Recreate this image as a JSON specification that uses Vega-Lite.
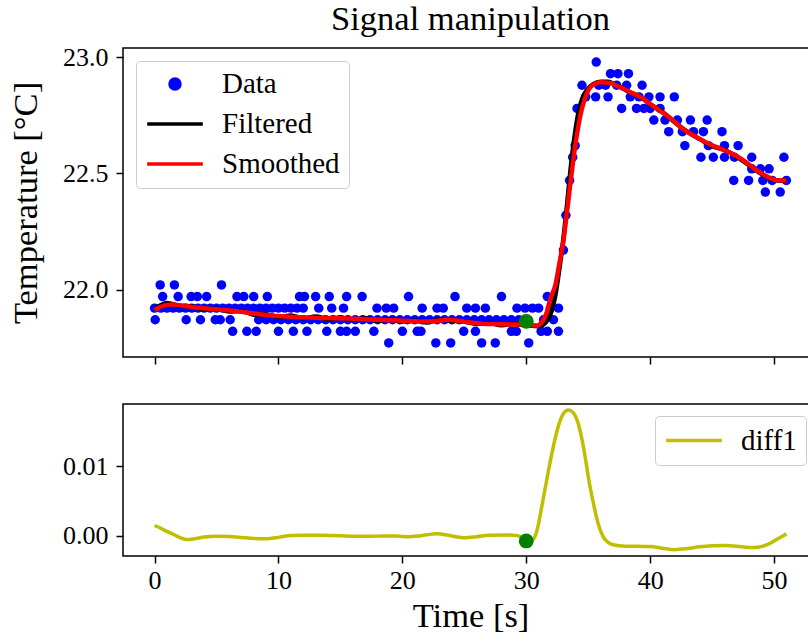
{
  "$schema": "https://vega.github.io/schema/vega-lite/v6.json",
  "padding": {"left": 7, "top": 1, "right": 0, "bottom": 2},
  "config": {
    "font": "Liberation Serif",
    "view": {"stroke": "black", "strokeWidth": 1.5},
    "axis": {"grid": false, "domain": false, "tickColor": "black", "tickWidth": 1.5, "tickSize": 7,
      "labelFont": "Liberation Serif", "labelFontSize": 26, "labelColor": "black",
      "titleFont": "Liberation Serif", "titleFontSize": 34.5, "titleFontWeight": "normal", "titleColor": "black"},
    "legend": {"labelFont": "Liberation Serif", "labelFontSize": 29, "labelColor": "black"}
  },
  "datasets": {
    "data": [
      {"time":0.0,"temp":21.92},{"time":0.5,"temp":21.92},{"time":1.0,"temp":21.92},{"time":1.5,"temp":21.92},{"time":2.0,"temp":21.92},{"time":2.5,"temp":21.92},{"time":3.0,"temp":21.92},{"time":3.5,"temp":21.92},{"time":4.0,"temp":21.92},{"time":4.5,"temp":21.92},{"time":5.0,"temp":21.92},{"time":5.5,"temp":21.92},{"time":6.0,"temp":21.92},{"time":6.5,"temp":21.92},{"time":7.0,"temp":21.92},{"time":7.5,"temp":21.92},{"time":8.0,"temp":21.92},{"time":8.5,"temp":21.92},{"time":9.0,"temp":21.92},{"time":9.5,"temp":21.92},{"time":10.0,"temp":21.92},{"time":10.5,"temp":21.92},{"time":11.0,"temp":21.92},{"time":11.5,"temp":21.92},
      {"time":12.0,"temp":21.92},{"time":13.25,"temp":21.92},{"time":14.3,"temp":21.92},{"time":15.25,"temp":21.92},{"time":17.95,"temp":21.92},{"time":18.7,"temp":21.92},{"time":19.3,"temp":21.92},{"time":21.6,"temp":21.92},{"time":22.8,"temp":21.92},{"time":23.3,"temp":21.92},{"time":25.2,"temp":21.92},{"time":25.9,"temp":21.92},{"time":26.7,"temp":21.92},{"time":29.25,"temp":21.92},{"time":29.9,"temp":21.92},{"time":30.5,"temp":21.92},{"time":31.0,"temp":21.92},{"time":31.95,"temp":21.92},{"time":32.6,"temp":21.92},
      {"time":0.05,"temp":21.87},{"time":2.55,"temp":21.87},{"time":3.7,"temp":21.87},{"time":4.9,"temp":21.87},{"time":5.3,"temp":21.87},{"time":6.1,"temp":21.87},
      {"time":8.4,"temp":21.87},{"time":9.0,"temp":21.87},{"time":9.6,"temp":21.87},{"time":10.2,"temp":21.87},{"time":10.8,"temp":21.87},{"time":11.4,"temp":21.87},{"time":12.0,"temp":21.87},{"time":12.6,"temp":21.87},{"time":13.2,"temp":21.87},{"time":13.8,"temp":21.87},{"time":14.4,"temp":21.87},{"time":15.0,"temp":21.87},{"time":15.6,"temp":21.87},{"time":16.2,"temp":21.87},{"time":16.8,"temp":21.87},{"time":17.4,"temp":21.87},{"time":18.0,"temp":21.87},{"time":18.6,"temp":21.87},{"time":19.2,"temp":21.87},{"time":19.8,"temp":21.87},{"time":20.4,"temp":21.87},{"time":21.0,"temp":21.87},{"time":21.6,"temp":21.87},{"time":22.2,"temp":21.87},{"time":22.8,"temp":21.87},{"time":23.4,"temp":21.87},{"time":24.0,"temp":21.87},{"time":24.6,"temp":21.87},{"time":25.2,"temp":21.87},{"time":25.8,"temp":21.87},{"time":26.4,"temp":21.87},{"time":27.0,"temp":21.87},{"time":27.6,"temp":21.87},{"time":28.2,"temp":21.87},{"time":28.8,"temp":21.87},{"time":29.4,"temp":21.87},{"time":31.4,"temp":21.87},{"time":32.2,"temp":21.87},
      {"time":0.65,"temp":21.97},{"time":1.9,"temp":21.97},{"time":2.95,"temp":21.97},{"time":3.45,"temp":21.97},{"time":4.2,"temp":21.97},{"time":6.65,"temp":21.97},{"time":7.2,"temp":21.97},{"time":8.0,"temp":21.97},{"time":9.1,"temp":21.97},{"time":11.7,"temp":21.97},{"time":12.1,"temp":21.97},{"time":13.0,"temp":21.97},{"time":14.1,"temp":21.97},{"time":15.5,"temp":21.97},{"time":16.75,"temp":21.97},{"time":20.5,"temp":21.97},{"time":24.25,"temp":21.97},{"time":28.0,"temp":21.97},{"time":31.7,"temp":21.97},
      {"time":0.45,"temp":22.02},{"time":1.6,"temp":22.02},{"time":5.4,"temp":22.02},
      {"time":6.3,"temp":21.82},{"time":7.45,"temp":21.82},{"time":8.2,"temp":21.82},{"time":10.0,"temp":21.82},{"time":11.2,"temp":21.82},{"time":12.3,"temp":21.82},{"time":13.9,"temp":21.82},{"time":15.0,"temp":21.82},{"time":15.5,"temp":21.82},{"time":16.2,"temp":21.82},{"time":17.7,"temp":21.82},{"time":20.0,"temp":21.82},{"time":21.2,"temp":21.82},{"time":21.5,"temp":21.82},{"time":24.95,"temp":21.82},{"time":25.9,"temp":21.82},{"time":28.8,"temp":21.82},{"time":29.2,"temp":21.82},{"time":31.2,"temp":21.82},{"time":31.7,"temp":21.82},{"time":32.6,"temp":21.82},
      {"time":18.9,"temp":21.77},{"time":22.7,"temp":21.77},{"time":23.9,"temp":21.77},{"time":26.4,"temp":21.77},{"time":27.5,"temp":21.77},{"time":30.2,"temp":21.77},
      {"time":33.0,"temp":22.17},{"time":33.2,"temp":22.32},{"time":33.5,"temp":22.47},{"time":33.75,"temp":22.57},{"time":33.95,"temp":22.62},{"time":34.1,"temp":22.78},
      {"time":35.65,"temp":22.98},
      {"time":36.8,"temp":22.93},{"time":37.4,"temp":22.93},{"time":38.25,"temp":22.93},
      {"time":34.5,"temp":22.88},{"time":35.85,"temp":22.88},{"time":36.4,"temp":22.88},{"time":37.3,"temp":22.88},{"time":38.1,"temp":22.88},{"time":39.35,"temp":22.88},
      {"time":34.8,"temp":22.83},{"time":35.6,"temp":22.83},{"time":36.6,"temp":22.83},{"time":38.4,"temp":22.83},{"time":39.1,"temp":22.83},{"time":39.9,"temp":22.83},{"time":40.8,"temp":22.83},{"time":41.95,"temp":22.83},
      {"time":37.7,"temp":22.78},{"time":38.9,"temp":22.78},{"time":39.5,"temp":22.78},{"time":40.0,"temp":22.78},{"time":40.8,"temp":22.78},
      {"time":40.3,"temp":22.73},{"time":41.2,"temp":22.73},{"time":42.2,"temp":22.73},{"time":43.25,"temp":22.73},{"time":44.6,"temp":22.73},
      {"time":41.5,"temp":22.68},{"time":42.6,"temp":22.68},{"time":43.5,"temp":22.68},{"time":44.3,"temp":22.68},{"time":45.8,"temp":22.68},
      {"time":42.8,"temp":22.62},{"time":44.7,"temp":22.62},{"time":46.0,"temp":22.62},{"time":47.1,"temp":22.62},
      {"time":44.1,"temp":22.57},{"time":45.1,"temp":22.57},{"time":46.0,"temp":22.57},{"time":46.8,"temp":22.57},{"time":48.2,"temp":22.57},{"time":50.8,"temp":22.57},
      {"time":48.2,"temp":22.52},{"time":48.9,"temp":22.52},{"time":49.6,"temp":22.52},
      {"time":46.75,"temp":22.47},{"time":47.95,"temp":22.47},{"time":49.1,"temp":22.47},{"time":49.85,"temp":22.47},{"time":51.0,"temp":22.47},
      {"time":49.3,"temp":22.42},{"time":50.5,"temp":22.42}
    ],
    "filtered": [
      {"time":0,"temp":21.915},{"time":1,"temp":21.942},{"time":2,"temp":21.930},{"time":3,"temp":21.928},{"time":4,"temp":21.914},{"time":5,"temp":21.918},{"time":6,"temp":21.906},{"time":7,"temp":21.908},{"time":8,"temp":21.892},{"time":9,"temp":21.894},{"time":10,"temp":21.882},{"time":11,"temp":21.888},{"time":12,"temp":21.876},{"time":13,"temp":21.884},{"time":14,"temp":21.873},{"time":15,"temp":21.880},{"time":16,"temp":21.870},{"time":17,"temp":21.876},{"time":18,"temp":21.866},{"time":19,"temp":21.872},{"time":20,"temp":21.862},{"time":21,"temp":21.866},{"time":22,"temp":21.858},{"time":23,"temp":21.872},{"time":24,"temp":21.866},{"time":25,"temp":21.862},{"time":26,"temp":21.852},{"time":27,"temp":21.856},{"time":28,"temp":21.846},{"time":29,"temp":21.852},{"time":30,"temp":21.846},{"time":31,"temp":21.842},{"time":31.6,"temp":21.86},{"time":32.0,"temp":21.90},{"time":32.4,"temp":21.99},{"time":32.7,"temp":22.10},{"time":33.0,"temp":22.22},{"time":33.3,"temp":22.37},{"time":33.6,"temp":22.53},{"time":33.9,"temp":22.66},{"time":34.2,"temp":22.76},{"time":34.5,"temp":22.82},{"time":34.9,"temp":22.86},{"time":35.4,"temp":22.885},{"time":36.0,"temp":22.895},{"time":36.6,"temp":22.895},{"time":37.2,"temp":22.882},{"time":37.8,"temp":22.866},{"time":38.5,"temp":22.846},{"time":39.2,"temp":22.83},{"time":40,"temp":22.798},{"time":41,"temp":22.765},{"time":42,"temp":22.72},{"time":43,"temp":22.68},{"time":44,"temp":22.648},{"time":45,"temp":22.618},{"time":46,"temp":22.602},{"time":47,"temp":22.572},{"time":48,"temp":22.535},{"time":49,"temp":22.498},{"time":50,"temp":22.472},{"time":51,"temp":22.468}
    ],
    "smoothed": [
      {"time":0,"temp":21.912},{"time":0.5,"temp":21.926},{"time":1.0,"temp":21.934},{"time":1.5,"temp":21.936},{"time":2.0,"temp":21.933},{"time":3.0,"temp":21.925},{"time":4.0,"temp":21.919},{"time":5.0,"temp":21.915},{"time":6.0,"temp":21.910},{"time":7.0,"temp":21.904},{"time":8.0,"temp":21.897},{"time":9.0,"temp":21.890},{"time":10.0,"temp":21.886},{"time":11.0,"temp":21.883},{"time":12.0,"temp":21.880},{"time":13.0,"temp":21.879},{"time":14.0,"temp":21.877},{"time":15.0,"temp":21.876},{"time":16.0,"temp":21.874},{"time":17.0,"temp":21.872},{"time":18.0,"temp":21.870},{"time":19.0,"temp":21.868},{"time":20.0,"temp":21.866},{"time":21.0,"temp":21.863},{"time":22.0,"temp":21.862},{"time":23.0,"temp":21.867},{"time":23.6,"temp":21.870},{"time":24.5,"temp":21.866},{"time":25.5,"temp":21.858},{"time":26.5,"temp":21.853},{"time":27.5,"temp":21.851},{"time":28.5,"temp":21.850},{"time":29.5,"temp":21.849},{"time":30.2,"temp":21.847},{"time":30.9,"temp":21.845},{"time":31.3,"temp":21.862},{"time":31.65,"temp":21.90},{"time":31.95,"temp":21.96},{"time":32.35,"temp":22.02},{"time":32.7,"temp":22.12},{"time":33.0,"temp":22.21},{"time":33.3,"temp":22.34},{"time":33.55,"temp":22.45},{"time":33.8,"temp":22.56},{"time":34.1,"temp":22.67},{"time":34.35,"temp":22.745},{"time":34.6,"temp":22.80},{"time":34.9,"temp":22.845},{"time":35.15,"temp":22.87},{"time":35.5,"temp":22.885},{"time":36.0,"temp":22.893},{"time":36.8,"temp":22.89},{"time":37.3,"temp":22.878},{"time":37.9,"temp":22.864},{"time":38.5,"temp":22.848},{"time":39.2,"temp":22.83},{"time":40.0,"temp":22.80},{"time":40.8,"temp":22.77},{"time":41.6,"temp":22.74},{"time":42.7,"temp":22.69},{"time":43.8,"temp":22.655},{"time":44.85,"temp":22.625},{"time":46.0,"temp":22.60},{"time":47.0,"temp":22.574},{"time":47.7,"temp":22.55},{"time":48.35,"temp":22.523},{"time":49.0,"temp":22.50},{"time":49.7,"temp":22.48},{"time":50.3,"temp":22.47},{"time":51.0,"temp":22.47}
    ],
    "diff": [
      {"time":0,"value":0.0015},{"time":0.5,"value":0.0011},{"time":1.0,"value":0.00065},{"time":1.5,"value":0.00025},{"time":2.0,"value":-0.0002},{"time":2.6,"value":-0.0005},{"time":3.2,"value":-0.0004},{"time":4.0,"value":-0.00015},{"time":5.0,"value":-0.00005},{"time":6.0,"value":-0.00008},{"time":7.0,"value":-0.0002},{"time":8.0,"value":-0.00035},{"time":9.0,"value":-0.0004},{"time":10.0,"value":-0.0002},{"time":11.0,"value":0.00008},{"time":12.0,"value":0.00012},{"time":13.5,"value":0.0001},{"time":15.0,"value":0.00002},{"time":16.5,"value":-0.00005},{"time":18.0,"value":-0.00002},{"time":19.5,"value":0.0},{"time":20.5,"value":-0.00012},{"time":21.5,"value":0.00005},{"time":22.8,"value":0.00033},{"time":24.0,"value":0.0},{"time":25.0,"value":-0.00025},{"time":26.0,"value":-0.0001},{"time":27.0,"value":0.0001},{"time":28.5,"value":0.00015},{"time":29.3,"value":0.00005},{"time":29.8,"value":-0.0004},{"time":30.2,"value":-0.0008},{"time":30.6,"value":-0.0004},{"time":31.0,"value":0.0018},{"time":31.2,"value":0.0037},{"time":31.6,"value":0.0075},{"time":32.0,"value":0.0112},{"time":32.3,"value":0.0137},{"time":32.7,"value":0.0163},{"time":33.0,"value":0.0175},{"time":33.4,"value":0.018},{"time":33.8,"value":0.0176},{"time":34.1,"value":0.0166},{"time":34.5,"value":0.0138},{"time":34.8,"value":0.0108},{"time":35.1,"value":0.0075},{"time":35.5,"value":0.004},{"time":35.8,"value":0.0018},{"time":36.2,"value":-0.0001},{"time":36.6,"value":-0.0009},{"time":37.0,"value":-0.00125},{"time":38.0,"value":-0.00145},{"time":39.0,"value":-0.00148},{"time":40.0,"value":-0.0015},{"time":41.0,"value":-0.00175},{"time":42.0,"value":-0.00195},{"time":43.0,"value":-0.0018},{"time":44.0,"value":-0.00155},{"time":45.0,"value":-0.0014},{"time":46.0,"value":-0.00135},{"time":47.0,"value":-0.00145},{"time":48.0,"value":-0.00165},{"time":48.7,"value":-0.0016},{"time":49.5,"value":-0.0012},{"time":50.2,"value":-0.0005},{"time":51.0,"value":0.0003}
    ],
    "eventTop": [{"time":30,"temp":21.863}],
    "eventBottom": [{"time":30,"value":-0.0007}]
  },
  "vconcat": [
    {
      "width": 695,
      "height": 309,
      "title": {"text": "Signal manipulation", "font": "Liberation Serif", "fontSize": 34.5, "fontWeight": "normal", "color": "black", "anchor": "middle", "frame": "group", "offset": 7},
      "layer": [
        {
          "data": {"name": "data"},
          "mark": {"type": "point", "filled": true, "size": 90, "opacity": 1},
          "encoding": {
            "x": {"field": "time", "type": "quantitative", "scale": {"domain": [-2.55, 53.55], "nice": false, "zero": false},
              "axis": {"values": [0,10,20,30,40,50], "labels": false, "title": null}},
            "y": {"field": "temp", "type": "quantitative", "scale": {"domain": [21.7095, 23.0405], "nice": false, "zero": false},
              "axis": {"values": [22.0, 22.5, 23.0], "format": ".1f", "title": "Temperature [°C]", "titlePadding": 19, "labelPadding": 8}},
            "color": {"datum": "Data", "type": "nominal",
              "scale": {"domain": ["Data", "Filtered", "Smoothed"], "range": ["#0000ff", "#000000", "#ff0000"]},
              "legend": {"orient": "top-left", "offset": 13, "title": null, "padding": 9, "strokeColor": "#cccccc", "fillColor": "rgba(255,255,255,0.8)", "cornerRadius": 4,
                "symbolType": "stroke", "symbolSize": 3100, "symbolStrokeWidth": 3.5, "labelOffset": 17, "rowPadding": 11, "clipHeight": 28,
                "encode": {"symbols": {"update": {
                  "shape": {"signal": "datum.value === 'Data' ? 'circle' : 'stroke'"},
                  "size": {"signal": "datum.value === 'Data' ? 100 : 3100"},
                  "fill": {"signal": "datum.value === 'Data' ? '#0000ff' : 'transparent'"},
                  "stroke": {"signal": "datum.value === 'Data' ? 'transparent' : (datum.value === 'Filtered' ? '#000000' : '#ff0000')"},
                  "strokeWidth": {"value": 3.5},
                  "opacity": {"value": 1}
                }}}}
            }
          }
        },
        {
          "data": {"name": "filtered"},
          "mark": {"type": "line", "strokeWidth": 4.5, "interpolate": "monotone"},
          "encoding": {
            "x": {"field": "time", "type": "quantitative"},
            "y": {"field": "temp", "type": "quantitative"},
            "color": {"datum": "Filtered", "type": "nominal",
              "legend": {"orient": "top-left", "offset": 13, "title": null, "padding": 9, "strokeColor": "#cccccc", "fillColor": "rgba(255,255,255,0.8)", "cornerRadius": 4,
                "symbolType": "stroke", "symbolSize": 3100, "symbolStrokeWidth": 3.5, "labelOffset": 17, "rowPadding": 11, "clipHeight": 28,
                "encode": {"symbols": {"update": {
                  "shape": {"signal": "datum.value === 'Data' ? 'circle' : 'stroke'"},
                  "size": {"signal": "datum.value === 'Data' ? 100 : 3100"},
                  "fill": {"signal": "datum.value === 'Data' ? '#0000ff' : 'transparent'"},
                  "stroke": {"signal": "datum.value === 'Data' ? 'transparent' : (datum.value === 'Filtered' ? '#000000' : '#ff0000')"},
                  "strokeWidth": {"value": 3.5},
                  "opacity": {"value": 1}
                }}}}}
          }
        },
        {
          "data": {"name": "smoothed"},
          "mark": {"type": "line", "strokeWidth": 4.5, "interpolate": "monotone"},
          "encoding": {
            "x": {"field": "time", "type": "quantitative"},
            "y": {"field": "temp", "type": "quantitative"},
            "color": {"datum": "Smoothed", "type": "nominal",
              "legend": {"orient": "top-left", "offset": 13, "title": null, "padding": 9, "strokeColor": "#cccccc", "fillColor": "rgba(255,255,255,0.8)", "cornerRadius": 4,
                "symbolType": "stroke", "symbolSize": 3100, "symbolStrokeWidth": 3.5, "labelOffset": 17, "rowPadding": 11, "clipHeight": 28,
                "encode": {"symbols": {"update": {
                  "shape": {"signal": "datum.value === 'Data' ? 'circle' : 'stroke'"},
                  "size": {"signal": "datum.value === 'Data' ? 100 : 3100"},
                  "fill": {"signal": "datum.value === 'Data' ? '#0000ff' : 'transparent'"},
                  "stroke": {"signal": "datum.value === 'Data' ? 'transparent' : (datum.value === 'Filtered' ? '#000000' : '#ff0000')"},
                  "strokeWidth": {"value": 3.5},
                  "opacity": {"value": 1}
                }}}}}
          }
        },
        {
          "data": {"name": "eventTop"},
          "mark": {"type": "point", "filled": true, "size": 220, "color": "#008000", "opacity": 1},
          "encoding": {
            "x": {"field": "time", "type": "quantitative"},
            "y": {"field": "temp", "type": "quantitative"}
          }
        }
      ]
    },
    {
      "width": 695,
      "height": 152,
      "layer": [
        {
          "data": {"name": "diff"},
          "mark": {"type": "line", "strokeWidth": 3.5, "interpolate": "monotone"},
          "encoding": {
            "x": {"field": "time", "type": "quantitative", "scale": {"domain": [-2.55, 53.55], "nice": false, "zero": false},
              "axis": {"values": [0,10,20,30,40,50], "title": "Time [s]", "labelPadding": 4, "titlePadding": 6}},
            "y": {"field": "value", "type": "quantitative", "scale": {"domain": [-0.00286, 0.01886], "nice": false, "zero": false},
              "axis": {"values": [0, 0.01], "format": ".2f", "title": null, "labelPadding": 8}},
            "color": {"datum": "diff1", "type": "nominal",
              "scale": {"domain": ["diff1"], "range": ["#bfbf00"]},
              "legend": {"orient": "top-right", "offset": 12, "title": null, "padding": 9, "strokeColor": "#cccccc", "fillColor": "rgba(255,255,255,0.8)", "cornerRadius": 4,
                "symbolType": "stroke", "symbolSize": 3100, "symbolStrokeWidth": 3.5, "labelOffset": 17, "clipHeight": 31}}
          }
        },
        {
          "data": {"name": "eventBottom"},
          "mark": {"type": "point", "filled": true, "size": 220, "color": "#008000", "opacity": 1},
          "encoding": {
            "x": {"field": "time", "type": "quantitative"},
            "y": {"field": "value", "type": "quantitative"}
          }
        }
      ]
    }
  ],
  "spacing": 36,
  "resolve": {"scale": {"color": "independent"}, "legend": {"color": "independent"}}
}
